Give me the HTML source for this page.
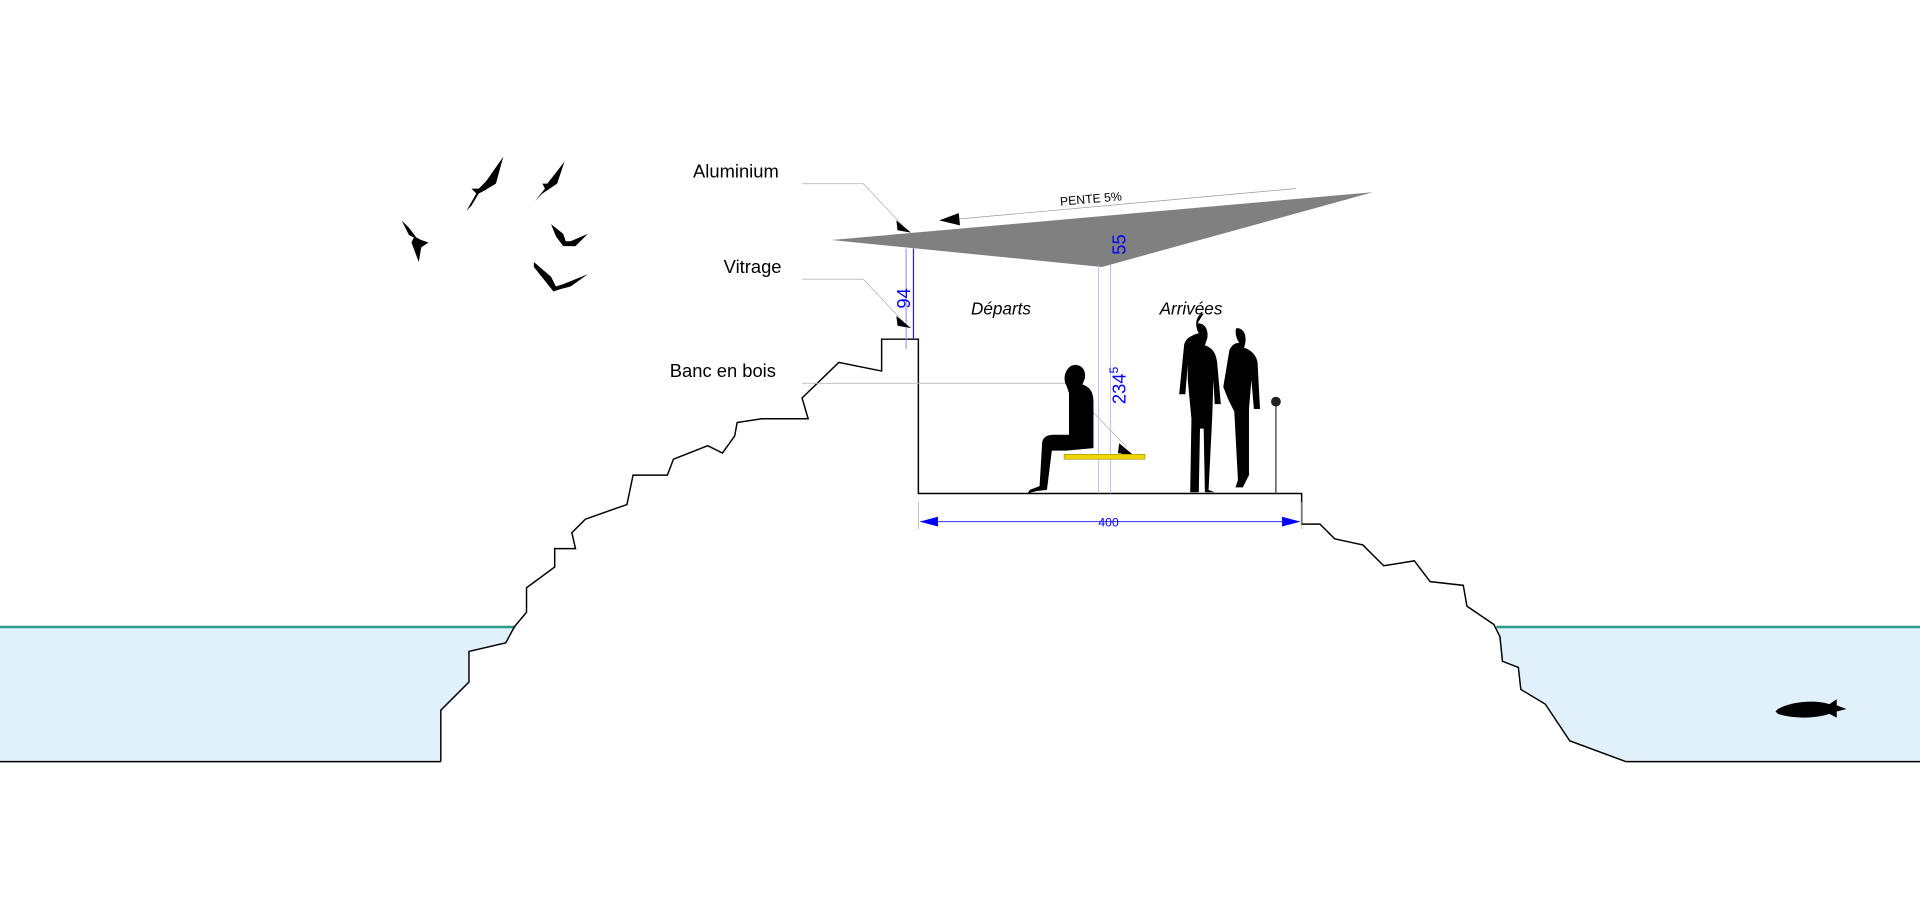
<!DOCTYPE html>
<html><head><meta charset="utf-8"><style>
html,body{margin:0;padding:0;background:#fff;width:1920px;height:908px;overflow:hidden}
svg{display:block}
text{font-family:"Liberation Sans",Arial,sans-serif}
</style></head><body>
<svg width="1920" height="908" viewBox="0 0 1568 741.5" preserveAspectRatio="none" xmlns="http://www.w3.org/2000/svg">
<!-- water -->
<path d="M0,512 L420,512 L413,525 L383,532 L383,557 L360,580 L360,622 L0,622 Z" fill="#e1f1fc"/>
<path d="M1222,512 L1568,512 L1568,622 L1328,622 L1282,605 L1262,575 L1242,563 L1240,545 L1227,540 Z" fill="#e1f1fc"/>
<line x1="0" y1="512" x2="421" y2="512" stroke="#2a9d8a" stroke-width="2"/>
<line x1="1222" y1="512" x2="1568" y2="512" stroke="#2a9d8a" stroke-width="2"/>
<line x1="0" y1="622" x2="360" y2="622" stroke="#000" stroke-width="1.2"/>
<line x1="1328" y1="622" x2="1568" y2="622" stroke="#000" stroke-width="1.2"/>
<!-- terrain -->
<polyline fill="none" stroke="#000" stroke-width="1.2" points="360,622 360,580 383,557 383,532 413,525 420,512 430,500 430,480 453,463 453,448 470,448 467,435 478,424 512,412 517,388 545,388 550,375 578,364 590,370 600,356 602,345 622,342 660,342 655,325 685,296 720,303 720,277 750,277 750,403 1063,403 1063,428 1078,428 1090,440 1113,445 1130,462 1155,458 1168,475 1195,478 1198,495 1220,510 1225,520 1227,540 1240,545 1242,563 1262,575 1282,605 1328,622"/>
<!-- roof -->
<polygon points="679,196 1121,157 900,218" fill="#808080"/>
<!-- glazing lines -->
<line x1="740" y1="203" x2="740" y2="285" stroke="#8888ff" stroke-width="0.8"/>
<line x1="746" y1="203" x2="746" y2="277" stroke="#2222ff" stroke-width="1"/>
<line x1="897" y1="216" x2="897" y2="403" stroke="#aaaaff" stroke-width="0.6"/>
<line x1="907" y1="216" x2="907" y2="403" stroke="#aaaaff" stroke-width="0.6"/>
<!-- leaders -->
<polyline points="655,150 705,150 738,185" fill="none" stroke="#bbb" stroke-width="0.7"/>
<polygon points="732,180 744,190 733,188" fill="#000"/>
<polyline points="655,228 705,228 738,263" fill="none" stroke="#bbb" stroke-width="0.7"/>
<polygon points="732,258 744,268 733,266" fill="#000"/>
<polyline points="655,313 870,313 920,365" fill="none" stroke="#bbb" stroke-width="0.7"/>
<polygon points="914,362 926,372 913,370" fill="#000"/>
<!-- slope arrow -->
<line x1="770" y1="180" x2="1058" y2="154" stroke="#999" stroke-width="0.6"/>
<polygon points="767,180 783,174 784,184" fill="#000"/>
<text x="866" y="168" font-size="10" transform="rotate(-5 866 168)">PENTE 5%</text>
<!-- dimension 400 -->
<line x1="750" y1="410" x2="750" y2="432" stroke="#aaa" stroke-width="0.6"/>
<line x1="1063" y1="410" x2="1063" y2="432" stroke="#aaa" stroke-width="0.6"/>
<line x1="752" y1="426" x2="1061" y2="426" stroke="#3333ff" stroke-width="0.8"/>
<polygon points="751,426 766,422 766,430" fill="#0000ff"/>
<polygon points="1062,426 1047,422 1047,430" fill="#0000ff"/>
<text x="897" y="430" font-size="10" fill="#0000ff">400</text>
<text transform="translate(743,252) rotate(-90)" font-size="15" fill="#0000ff">94</text>
<text transform="translate(919,208) rotate(-90)" font-size="15" fill="#0000ff">55</text>
<text transform="translate(919,330) rotate(-90)" font-size="15" fill="#0000ff">234<tspan font-size="10" dy="-6">5</tspan></text>
<!-- labels -->
<text x="566" y="145" font-size="15">Aluminium</text>
<text x="591" y="223" font-size="15">Vitrage</text>
<text x="547" y="308" font-size="15">Banc en bois</text>
<text x="793" y="257" font-size="14" font-style="italic">Départs</text>
<text x="947" y="257" font-size="14" font-style="italic">Arrivées</text>
<!-- bench -->
<rect x="869" y="371" width="66" height="4" fill="#f2d600" stroke="#9a8a00" stroke-width="0.5"/>
<!-- seated person -->
<path d="M878,298 c6,0 9,5 8,11 l-2,5 c6,2 9,6 9,14 l0,38 l-22,2 l-12,0 l-4,32 l-8,1 l-8,2 l2,-3 l8,-3 l2,-34 c0,-6 4,-8 10,-8 l12,0 l0,-8 l0,-26 l-2,-6 c-4,-6 0,-17 7,-17z" fill="#000"/>
<!-- standing couple -->
<path d="M978,264 c6,0 9,5 8,12 l-2,6 c6,2 9,6 10,14 l3,34 l-5,0 l-1,-20 l-1,30 l-3,60 l5,2 l-8,0 l-1,-52 l-3,0 l-1,52 l-7,0 l1,-60 l-3,-32 l0,-12 l-2,24 l-5,0 l4,-40 c1,-6 6,-8 12,-10 c-4,-6 -2,-16 4,-16z" fill="#000"/>
<path d="M1010,268 c6,0 8,6 7,12 l-1,4 c6,2 10,6 11,12 l2,38 l-5,0 l-2,-24 l-2,24 l0,54 l-5,10 l-6,0 l2,-6 l-3,-56 l-5,-10 l-4,-10 l5,-30 c2,-4 4,-6 8,-6 c-4,-6 -3,-12 -2,-12z" fill="#000"/>
<!-- post -->
<line x1="1042" y1="330" x2="1042" y2="403" stroke="#555" stroke-width="1.2"/>
<circle cx="1042" cy="328" r="4" fill="#222"/>
<!-- birds -->
<g fill="#000">
<path d="M381,172 l8,-14 l-4,-4 l6,0 l6,-6 l14,-20 l-6,22 l-10,6 l-4,2 l-6,10z"/>
<path d="M437,164 l8,-10 l-2,-4 l4,0 l14,-18 l-6,18 l-6,4 l-6,4z"/>
<path d="M328,180 l6,12 l4,2 l-2,4 l6,16 l2,-12 l6,-4 l-6,-2 l-4,-2 l-6,-8z"/>
<path d="M450,183 l10,8 l2,6 l4,0 l14,-6 l-10,10 l-6,0 l-4,0 l-6,-8z"/>
<path d="M436,214 l14,12 l4,8 l6,-2 l20,-8 l-14,10 l-8,2 l-6,2 l-8,-10 l-8,-10z"/>
<path d="M1452,579 c10,-6 30,-8 42,-4 l6,-4 l0,5 l8,3 l-8,2 l0,5 l-6,-3 c-12,4 -30,4 -42,0 l-2,-2z"/>
</g>
</svg>
</body></html>
